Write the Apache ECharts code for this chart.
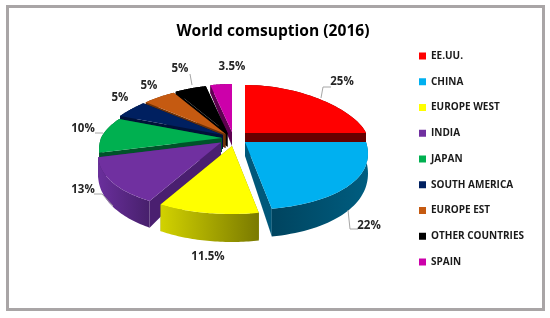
<!DOCTYPE html>
<html><head><meta charset="utf-8">
<style>html,body{margin:0;padding:0;background:#fff}#c{width:550px;height:318px}</style>
<script src="https://cdn.jsdelivr.net/npm/echarts@6/dist/echarts.min.js"></script>
</head><body><div id="c"></div>
<script>
var categories = ['EE.UU.','CHINA','EUROPE WEST','INDIA','JAPAN','SOUTH AMERICA','EUROPE EST','OTHER COUNTRIES','SPAIN'];
var values = [25,22,11.5,13,10,5,5,5,3.5];
var colors = ['#ff0000','#00b0f0','#ffff00','#7030a0','#00b050','#002060','#c55a11','#000000','#cc00aa'];
var cutColors = ['#660000','#00587a','#8a8a00','#4a1f70','#00532a','#001238','#6e3208','#000000','#5e0050'];
var wallFrom = ['#660000','#00445f','#d2d200','#6a2f9c','#00532a','#001238','#6e3208','#000000','#5e0050'];
var wallTo = ['#660000','#005d80','#7a7a00','#47206c','#00532a','#001238','#6e3208','#000000','#5e0050'];
var apexShift = [[14,-4.5],[14,4.5],[1,8.5],[-10,5],[-9,0.5],[-8,-2.5],[-5.5,-3.5],[-3.5,-4.5],[1,-5.5]];
var drawOrder = [8,7,6,5,4,0,3,2,1];
var labelAt = [[342,82],[369,226],[208,257],[83,190],[83,129],[120,98],[149,86],[180,69],[232,67]];
var leaders = [
  [[321,98],[323,87],[331,87]],
  [[348,210],[350,229],[358,229]],
  [],
  [[113,206],[102,194],[94,194]],
  [[103,133],[95,133]],
  [],[],
  [[192,85],[190,74]],
  []
];

var CX=231, CY=137.5, RX=121, RYB=48, RYF=68, K=0.185;
var total=values.reduce(function(a,b){return a+b;},0);
var starts=[],acc=0;
values.forEach(function(v){starts.push(acc);acc+=v;});
function rad(p){return p/total*Math.PI*2;}
function apex(i){return [CX+apexShift[i][0], CY+apexShift[i][1]];}
function rim(i,t){
  var a=apex(i),s=Math.sin(t),c=Math.cos(t);
  return [a[0]+RX*s*(1-K*c), a[1]-(c>0?RYB:RYF)*c];
}
function depth(t){return 18-10*Math.cos(t);}
var APEX_DEPTH=14;

function item(i){
  return function(params,api){
    var v=api.value(0);
    var t0=rad(starts[i]), t1=t0+rad(v), n=40, arc=[], low=[], a=apex(i);
    for(var j=0;j<=n;j++){
      var t=t0+(t1-t0)*j/n, p=rim(i,t);
      arc.push(p); low.push([p[0],p[1]+depth(t)]);
    }
    var aLow=[a[0],a[1]+APEX_DEPTH];
    var kids=[];
    kids.push({type:'polygon',z2:1,shape:{points:[a,arc[0],low[0],aLow]},style:{fill:cutColors[i]}});
    kids.push({type:'polygon',z2:1,shape:{points:[a,arc[n],low[n],aLow]},style:{fill:cutColors[i]}});
    kids.push({type:'polygon',z2:2,shape:{points:arc.concat(low.slice().reverse())},
      style:{fill:{type:'linear',x:0,y:0,x2:1,y2:0,colorStops:[{offset:0,color:wallFrom[i]},{offset:1,color:wallTo[i]}]}}});
    kids.push({type:'polygon',z2:3,shape:{points:[a].concat(arc)},style:{fill:colors[i]}});
    if(leaders[i].length){
      kids.push({type:'polyline',z2:4,shape:{points:leaders[i]},style:{fill:null,stroke:'#a6a6a6',lineWidth:1}});
    }
    kids.push({type:'text',z2:5,style:{x:labelAt[i][0],y:labelAt[i][1],text:v+'%',fill:'#262626',
      font:'bold 11.5px "Open Sans"',align:'center',verticalAlign:'middle'}});
    return {type:'group',children:kids};
  };
}

var series=categories.map(function(name,i){
  return {type:'custom',name:name,coordinateSystem:'none',z:2+drawOrder.indexOf(i),
    silent:true,itemStyle:{color:colors[i]},data:[[values[i]]],renderItem:item(i)};
});

var chart=echarts.init(document.getElementById('c'),null,{renderer:'canvas'});
chart.setOption({
  animation:false,
  backgroundColor:'#fff',
  title:{text:'World comsuption (2016)',left:268,top:19,textAlign:'center',
    textStyle:{fontFamily:'Open Sans',fontWeight:'bold',fontSize:15.6,color:'#000'}},
  legend:{orient:'vertical',left:419,top:50,padding:0,itemWidth:7,itemHeight:7,itemGap:13.75,icon:'rect',
    data:categories,selectedMode:false,
    textStyle:{fontFamily:'Open Sans',fontWeight:'bold',fontSize:10,color:'#1a1a1a',lineHeight:12}},
  graphic:[{type:'rect',z:0,shape:{x:7.5,y:6.5,width:536,height:303},style:{fill:'#fff',stroke:'#a9a5a6',lineWidth:3}}],
  series:series
});
</script></body></html>
